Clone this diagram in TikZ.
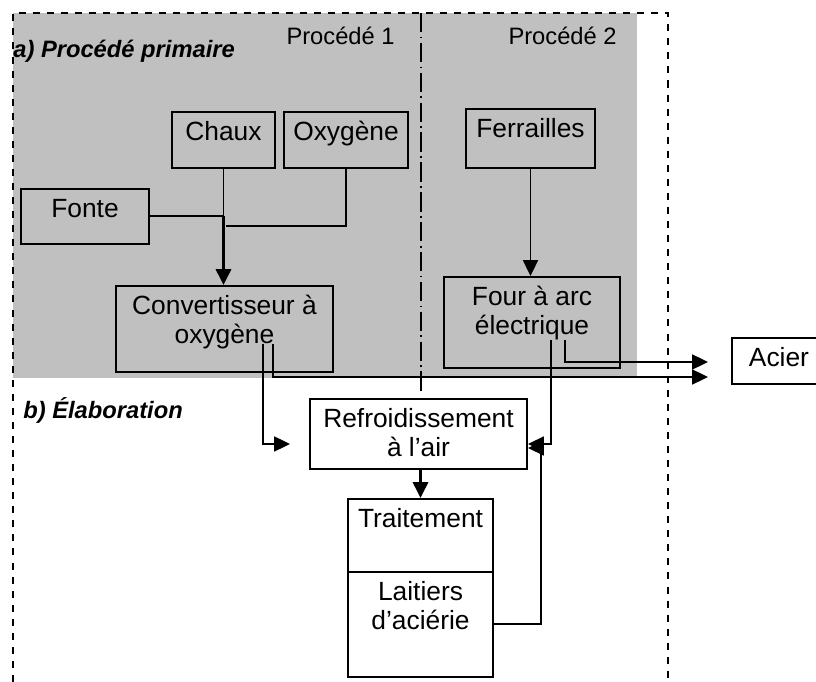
\documentclass[tikz,border=0pt]{standalone}
\usepackage{fontspec}
\setmainfont{Liberation Sans}
\usetikzlibrary{arrows.meta,calc}
\definecolor{panelgray}{RGB}{192,192,192}
\tikzset{>={Triangle[length=9pt,width=8.5pt]}}
\tikzset{
  box/.style={draw,line width=1.2pt,anchor=north,align=center,inner xsep=2pt,inner ysep=0pt,
    text height=16.4pt,font=\fontsize{15}{16.4}\selectfont},
  twoline/.style={text height=32.8pt},
  flow/.style={line width=1.1pt},
  mainflow/.style={line width=1.9pt},
  title/.style={font=\fontsize{13.5}{16}\selectfont\bfseries\itshape,inner sep=0pt,anchor=base west},
  procname/.style={font=\fontsize{13.5}{16}\selectfont,inner sep=0pt,anchor=base east},
  frame/.style={line width=0.8pt,dash pattern=on 4pt off 4pt}
}

\begin{document}
\begin{tikzpicture}[x=0.02cm,y=-0.02cm]
\useasboundingbox (0,0) rectangle (816,682);
% zones
\fill[panelgray] (13,13) rectangle (637,378);
\draw[frame] (13,682) -- (13,13) -- (668,13) -- (668,682);
\draw[line width=0.6pt,dash pattern=on 11pt off 2.5pt on 1pt off 2.5pt] (421,13) -- (421,395);
\node (titlea) [title] at (13,58) {a) Procédé primaire};
\node (titleb) [title] at (23,419) {b) Élaboration};
\node (proc1) [procname] at (395,45) {Procédé 1};
\node (proc2) [procname] at (617,45) {Procédé 2};
% boxes
\node (chaux) [box,minimum width=2.06cm,text depth=15.3pt] at (223.5,111) {Chaux};
\node (oxygene) [box,minimum width=2.48cm,text depth=15.3pt] at (346,111) {Oxygène};
\node (fonte) [box,minimum width=2.56cm,text depth=14.8pt] at (85,188) {Fonte};
\node (ferrailles) [box,minimum width=2.58cm,text depth=17.1pt] at (530.5,108) {Ferrailles};
\node (convert) [box,twoline,minimum width=4.34cm,text depth=16pt] at (224.5,285) {Convertisseur à\\oxygène};
\node (four) [box,twoline,minimum width=3.52cm,text depth=18.8pt] at (532,276) {Four à arc\\électrique};
\node (acier) [box,minimum width=1.88cm,text depth=9.7pt] at (779,337) {Acier};
\node (refroid) [box,twoline,minimum width=4.34cm,text depth=6.9pt] at (418.5,398) {Refroidissement\\à l’air};
\node (traitement) [box,minimum width=2.9cm,text depth=25pt] at (420.5,498) {Traitement};
\node (laitiers) [box,twoline,minimum width=2.9cm,text depth=26.7pt] at (420.5,571) {Laitiers\\d’aciérie};
% connectors
\coordinate (join) at (chaux.south |- fonte.east);
\coordinate (joinb) at ($(join)+(2,10)$);
\coordinate (cvout1) at (263,344);
\coordinate (cvout2) at (273,344);
\coordinate (fourout1) at (551,340);
\coordinate (fourout2) at (565,340);
\coordinate (refin) at (290,444);
\coordinate (acierin1) at (708,362);
\coordinate (acierin2) at (708,377);
\coordinate (laitret) at (541,448);
\draw[flow] (chaux.south) -- (join);
\draw[flow] (fonte.east) -- (join);
\draw[flow] (oxygene.south) |- (joinb);
\draw[mainflow,->] (join) -- (join |- convert.north);
\draw[flow,->] (ferrailles.south) -- (ferrailles.south |- four.north);
\draw[flow,->] (cvout1) |- (refin);
\draw[flow,->] (cvout2) |- (acierin2);
\draw[flow,->] (fourout2) |- (acierin1);
\draw[flow,->] (fourout1) |- (refroid.east |- refin);
\draw[flow,->] (laitiers.east) -| (laitret) -- (laitret -| refroid.east);
\draw[mainflow,->] (traitement.north |- refroid.south) -- (traitement.north);
\end{tikzpicture}
\end{document}
